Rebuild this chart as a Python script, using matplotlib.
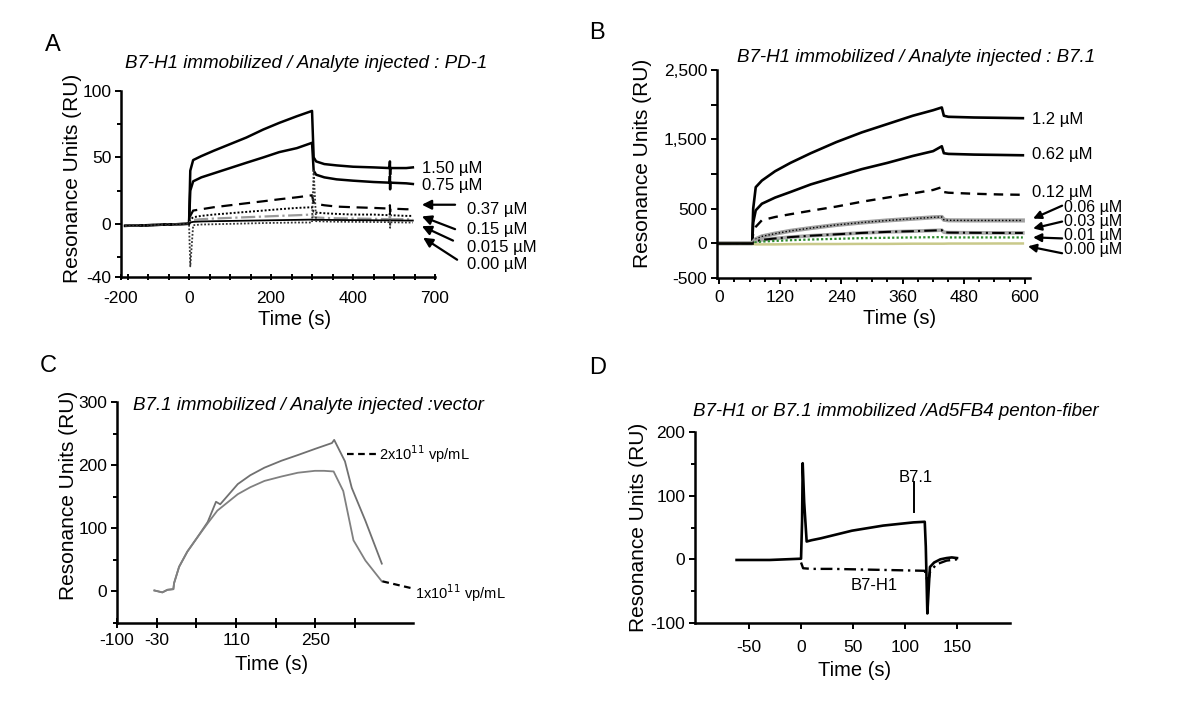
import numpy as np
import matplotlib
matplotlib.use("Agg")
import matplotlib.pyplot as plt
from matplotlib.ticker import MultipleLocator, FixedLocator

plt.rcParams['font.family'] = ['Liberation Sans', 'DejaVu Sans']
plt.rcParams['axes.unicode_minus'] = False

W, H = 1200, 710

# ---------------- Panel A data : PD-1 on B7-H1 ----------------
ta = [-156, -100, -50, -5, 0, 3, 10, 30, 60, 100, 140, 181, 220, 263, 300, 304, 310,
      330, 360, 400, 450, 489, 490, 490.5, 491, 530, 546]
a_150 = [-1.5, -1, -0.5, 0, 0, 40, 48, 51, 55, 60, 65, 71, 76, 81, 85, 50, 47,
         45, 44, 43, 42.5, 42, 47, 37, 42, 42, 42.5]
a_075 = [-1.5, -1, -0.5, 0, 0, 25, 32, 35, 38, 42, 46, 50, 54, 57, 61, 40, 37,
         35, 33.5, 32.5, 31.5, 31, 36, 26, 31, 30.5, 30]
a_037 = [-1.5, -1, -0.5, 0, 0, 6, 10, 11, 12.5, 14, 15.5, 17, 18.5, 20, 21.5, 16, 15,
         14, 13, 12.5, 12, 11.5, 14, 9, 11.5, 11, 11]
a_015 = [-1.5, -1, -0.5, 0, 0, 3, 5, 6, 7, 8, 9, 10, 11, 12, 12.5, 9, 8.5,
         8, 7.5, 7, 7, 6.5, 9, 3, 6.5, 6, 6]
a_0015 = [-1.5, -1, -0.5, 0, 0, 1.5, 3, 3.5, 4, 4.5, 5, 5.5, 6, 6.5, 7, 5, 4.8,
          4.5, 4.2, 4, 3.8, 3.5, 6, 0, 3.5, 3.5, 3.5]
a_000 = [-1.5, -1, -0.5, 0, 0, -32, -1, -0.5, -0.3, 0, 0.3, 0.6, 0.8, 1, 1, 40, 2,
         1.8, 1.6, 1.5, 1.4, 1.3, 3, -3, 1.2, 1, 1]
a_buf = [-1.5, -1, -0.5, 0, 0, 1, 1.5, 1.8, 2, 2.2, 2.4, 2.6, 2.8, 3, 3.2, 3, 3,
         3, 2.9, 2.8, 2.7, 2.6, 2.6, 2.6, 2.6, 2.5, 2.5]

# ---------------- Panel B data : B7.1 on B7-H1 ----------------
tb = [0, 65, 67, 72, 84, 110, 140, 180, 230, 280, 330, 380, 420, 437, 441, 450, 500, 550, 596]
b_120 = [0, 0, 500, 810, 905, 1040, 1160, 1300, 1460, 1600, 1720, 1840, 1920, 1960,
         1840, 1825, 1815, 1810, 1805]
b_062 = [0, 0, 300, 476, 571, 660, 740, 850, 960, 1070, 1160, 1260, 1330, 1400,
         1300, 1290, 1280, 1275, 1270]
b_012 = [0, 0, 150, 238, 333, 380, 420, 470, 530, 600, 660, 720, 770, 810,
         740, 730, 715, 705, 700]
b_006 = [0, 0, 20, 60, 100, 140, 180, 220, 265, 300, 330, 355, 375, 380,
         340, 332, 330, 330, 330]
b_003 = [0, 0, 10, 30, 50, 70, 90, 110, 130, 150, 165, 175, 185, 190,
         160, 155, 152, 150, 150]
b_001 = [0, 0, 5, 15, 25, 35, 45, 55, 65, 75, 80, 85, 88, 90, 85, 85, 85, 85, 85]
b_000 = [0, 0, -10, -15, -15, -15, -12, -10, -10, -8, -8, -5, -5, -5, -5, -3, -3, -2, -2]

# ---------------- Panel C data : vector on B7.1 ----------------
tc_hi = [-34, -20, -11, -0.6, 0.6, 9.5, 24, 42, 60, 74.6, 82, 113, 135, 160, 190, 219,
         250, 279, 283, 302, 314, 338, 367]
c_hi = [1.5, -1.5, 2.6, 3.6, 13, 39, 63, 86, 110, 142, 138, 170, 184, 196, 207, 216,
        226, 235, 240, 206, 164, 112, 44]
tc_lo = [-34, -20, -11, -0.6, 0.6, 9.5, 24, 42, 60, 77, 113, 135, 160, 190, 219, 249,
         265, 282, 299, 317, 338, 367]
c_lo = [1.5, -1.5, 2.6, 3.6, 13, 39, 63, 86, 108, 128, 154, 165, 175, 182, 188, 191,
        191, 190, 159, 81, 49, 16]

# ---------------- Panel D data : Ad5FB4 penton-fiber ----------------
td_71 = [-62, -30, 0, 1, 1.6, 3, 5.4, 10, 19, 49, 79, 108, 119, 120, 121.5, 123, 124,
         128, 134, 140, 145, 150]
d_71 = [-1, -1, 1, 60, 151, 90, 28, 30, 33, 45, 53, 58, 59, 20, -85, -40, -12,
        -5, 0, 2, 3, 2]
td_h1 = [0, 2, 10, 30, 60, 90, 119, 121, 122, 124, 130, 140, 150]
d_h1 = [-5, -14, -15, -15, -16, -17, -18, -30, -38, -20, -8, -2, 0]


def rect(l, t, r, b):
    return [l / W, 1 - b / H, (r - l) / W, (b - t) / H]


def ftext(x, y, s, **kw):
    fig.text(x / W, 1 - y / H, s, **kw)


def style(ax):
    for side in ['top', 'right']:
        ax.spines[side].set_visible(False)
    for side in ['left', 'bottom']:
        ax.spines[side].set_linewidth(1.8)
    ax.tick_params(which='both', labelsize=12.5, width=1.4, direction='out')
    ax.tick_params(which='major', length=4)
    ax.tick_params(which='minor', length=3)
    ax.tick_params(axis='y', pad=3)
    ax.tick_params(axis='x', pad=5)


fig = plt.figure(figsize=(12, 7.1), dpi=100)

# ============================ A ============================
axA = fig.add_axes(rect(121, 91, 435, 277))
style(axA)
axA.plot(ta, a_150, color='k', lw=1.8)
axA.plot(ta, a_075, color='k', lw=1.8)
axA.plot(ta, a_037, color='k', lw=1.6, ls=(0, (5, 3)))
axA.plot(ta, a_015, color='k', lw=1.4, ls=(0, (1, 1)))
axA.plot(ta, a_0015, color='#9a9a9a', lw=1.6, ls='-.')
axA.plot(ta, a_buf, color='k', lw=1.3)
axA.plot(ta, a_000, color='#333333', lw=1.3, ls=(0, (1, 1)))
axA.set_xlim(-166, 600)
axA.set_ylim(-40, 100)
axA.xaxis.set_major_locator(FixedLocator([-166, 0, 200, 400, 600]))
axA.set_xticklabels(['-200', '0', '200', '400', '700'])
axA.xaxis.set_minor_locator(MultipleLocator(50))
axA.set_yticks([-40, 0, 50, 100])
axA.yaxis.set_minor_locator(MultipleLocator(25))
axA.tick_params(axis='x', which='both', direction='inout', length=4, pad=8)

for lab, y in [('1.50 µM', 42), ('0.75 µM', 29)]:
    axA.text(568, y, lab, fontsize=12, va='center', ha='left', clip_on=False)
for lab, y in [('0.37 µM', 10.7), ('0.15 µM', -4), ('0.015 µM', -17.7), ('0.00 µM', -30.8)]:
    axA.text(678, y, lab, fontsize=12, va='center', ha='left', clip_on=False)
arrowsA = [((568, 14.4), (649, 14.4)), ((568, 5.6), (649, -4)),
           ((568, -1.7), (644, -12.6)), ((571, -10.4), (654, -27))]
for head, tail in arrowsA:
    axA.annotate('', xy=head, xytext=tail, annotation_clip=False,
                 arrowprops=dict(arrowstyle='-|>', color='k', lw=1.6,
                                 mutation_scale=14, shrinkA=0, shrinkB=0))

ftext(125, 63, 'B7-H1 immobilized / Analyte injected : PD-1', fontsize=13.5,
      style='italic', ha='left', va='center')
ftext(53, 45, 'A', fontsize=17, ha='center', va='center')
ftext(73, 178, 'Resonance Units (RU)', fontsize=15, rotation=90, ha='center', va='center')
ftext(295, 319, 'Time (s)', fontsize=14.5, ha='center', va='center')

# ============================ B ============================
axB = fig.add_axes(rect(717, 70, 1030, 278))
style(axB)
axB.plot(tb, b_120, color='k', lw=1.9)
axB.plot(tb, b_062, color='k', lw=1.9)
axB.plot(tb, b_012, color='k', lw=1.7, ls=(0, (4, 3)))
axB.plot(tb, b_006, color='#a0a0a0', lw=3.0)
axB.plot(tb, b_006, color='k', lw=1.0, ls=(0, (1, 1.5)))
axB.plot(tb, b_003, color='#a8a8a8', lw=2.6, ls='-')
axB.plot(tb, b_003, color='k', lw=1.5, ls=(0, (6, 2, 1, 2)))
axB.plot(tb, b_001, color='#2e8b2e', lw=1.6, ls=(0, (1, 1)))
axB.plot(tb, b_000, color='#c9c98a', lw=1.8)
axB.plot(tb[:2], b_000[:2], color='k', lw=1.9)
axB.set_xlim(-4, 610)
axB.set_ylim(-500, 2500)
axB.set_xticks([0, 120, 240, 360, 480, 600])
axB.xaxis.set_minor_locator(MultipleLocator(30))
axB.set_yticks([-500, 0, 500, 1000, 1500, 2000, 2500])
axB.set_yticklabels(['-500', '0', '500', '', '1,500', '', '2,500'])

for lab, y in [('1.2 µM', 1786), ('0.62 µM', 1286), ('0.12 µM', 729)]:
    axB.text(614, y, lab, fontsize=12, va='center', ha='left', clip_on=False)
for lab, y in [('0.06 µM', 514), ('0.03 µM', 314), ('0.01 µM', 114), ('0.00 µM', -86)]:
    axB.text(677, y, lab, fontsize=11.5, va='center', ha='left', clip_on=False)
arrowsB = [((616, 357), (673, 543)), ((616, 214), (673, 314)),
           ((616, 86), (673, 71)), ((606, -43), (673, -143))]
for head, tail in arrowsB:
    axB.annotate('', xy=head, xytext=tail, annotation_clip=False,
                 arrowprops=dict(arrowstyle='-|>', color='k', lw=1.6,
                                 mutation_scale=12, shrinkA=0, shrinkB=0))

ftext(737, 58, 'B7-H1 immobilized / Analyte injected : B7.1', fontsize=13.5,
      style='italic', ha='left', va='center')
ftext(597, 33, 'B', fontsize=17, ha='center', va='center')
ftext(642, 163, 'Resonance Units (RU)', fontsize=15, rotation=90, ha='center', va='center')
ftext(900, 318, 'Time (s)', fontsize=14.5, ha='center', va='center')

# ============================ C ============================
axC = fig.add_axes(rect(117, 402, 413, 623))
style(axC)
axC.plot(tc_hi, c_hi, color='#707070', lw=1.3)
axC.plot(tc_lo, c_lo, color='#808080', lw=1.3)
axC.set_xlim(-100, 422)
axC.set_ylim(-50, 300)
axC.set_xticks([-100, -30, 40, 110, 180, 250, 320])
axC.set_xticklabels(['-100', '-30', '', '110', '', '250', ''])
axC.set_yticks([0, 100, 200, 300])
axC.yaxis.set_minor_locator(MultipleLocator(50))
axC.tick_params(axis='x', direction='inout', length=7, pad=4)

axC.plot([305, 360], [217, 217], color='k', lw=1.6, ls=(0, (3, 2)), clip_on=False)
axC.text(362, 217, '2x10$^{11}$ vp/mL', fontsize=10.5, va='center', ha='left', clip_on=False)
axC.plot([368, 420], [16, 5], color='k', lw=1.6, ls=(0, (3, 2)), clip_on=False)
axC.text(425, -2, '1x10$^{11}$ vp/mL', fontsize=10.5, va='center', ha='left', clip_on=False)

ftext(133, 405, 'B7.1 immobilized / Analyte injected :vector', fontsize=13.5,
      style='italic', ha='left', va='center')
ftext(48, 366, 'C', fontsize=17, ha='center', va='center')
ftext(68, 495, 'Resonance Units (RU)', fontsize=15, rotation=90, ha='center', va='center')
ftext(272, 664, 'Time (s)', fontsize=14.5, ha='center', va='center')

# ============================ D ============================
axD = fig.add_axes(rect(695, 432, 1010, 623))
style(axD)
axD.plot(td_71, d_71, color='k', lw=1.9)
axD.plot(td_h1, d_h1, color='k', lw=1.7, ls=(0, (5, 2, 1, 2)))
axD.set_xlim(-102, 201)
axD.set_ylim(-100, 200)
axD.set_xticks([-50, 0, 50, 100, 150])
axD.set_yticks([-100, 0, 100, 200])
axD.yaxis.set_minor_locator(MultipleLocator(50))
axD.tick_params(axis='x', pad=8)

axD.text(110, 129, 'B7.1', fontsize=12, ha='center', va='center')
axD.plot([108.6, 108.6], [121, 74], color='k', lw=1.4)
axD.text(70, -41, 'B7-H1', fontsize=12, ha='center', va='center')

ftext(693, 412, 'B7-H1 or B7.1 immobilized /Ad5FB4 penton-fiber', fontsize=13.5,
      style='italic', ha='left', va='center')
ftext(598, 368, 'D', fontsize=17, ha='center', va='center')
ftext(638, 527, 'Resonance Units (RU)', fontsize=15, rotation=90, ha='center', va='center')
ftext(855, 670, 'Time (s)', fontsize=14.5, ha='center', va='center')

fig.savefig('out.png', dpi=100)
